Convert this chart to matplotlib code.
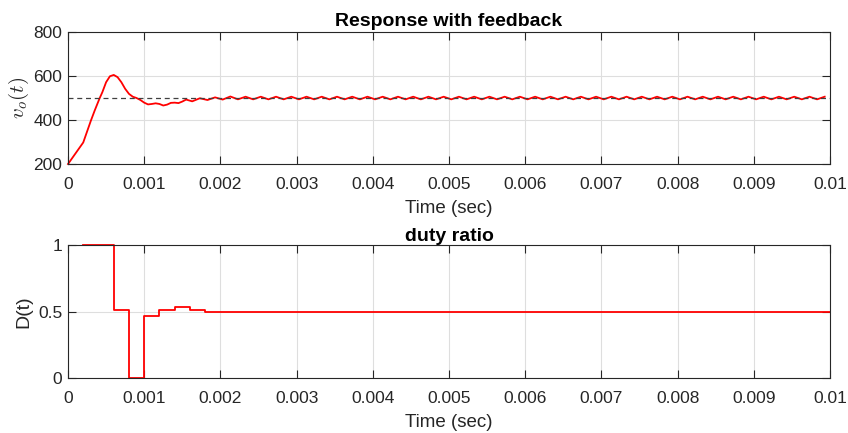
import numpy as np
import matplotlib
matplotlib.use('Agg')
import matplotlib.pyplot as plt

plt.rcParams['font.family'] = ['Liberation Sans', 'DejaVu Sans']
plt.rcParams['mathtext.fontset'] = 'cm'

# output voltage: transient points (s, V)
vo_t = [0, 0.0002, 0.0003, 0.00035, 0.000416, 0.00045, 0.0005, 0.00055, 0.0006,
        0.00065, 0.0007, 0.00075, 0.0008, 0.00085,
        0.0009, 0.00095, 0.001, 0.00105, 0.0011, 0.00115, 0.0012, 0.00125,
        0.0013, 0.00135, 0.0014, 0.00145, 0.0015, 0.00155]
vo_v = [200, 298, 397, 443, 500, 526, 572, 599, 605,
        595, 572, 542, 519, 506,
        500, 491, 479, 471, 473, 476, 473, 466,
        470, 478, 479, 477, 484, 493]

# ripple after the transient: alternating troughs and peaks every half period
ripple_start = 0.00163
ripple_half = 0.0001
ripple_v = [485, 499, 491, 503, 493, 507, 494, 506, 494, 506,
            494, 506, 494, 506, 494, 506, 494, 506, 494, 506,
            494, 506, 494, 506, 494, 506, 494, 506, 494, 506,
            494, 506, 494, 506, 494, 506, 494, 506, 494, 506,
            494, 506, 494, 506, 494, 506, 494, 506, 494, 506,
            494, 506, 494, 506, 494, 506, 494, 506, 494, 506,
            494, 506, 494, 506, 494, 506, 494, 506, 494, 506,
            494, 506, 494, 506, 494, 506, 494, 506, 494, 506,
            494, 506, 494, 506]
v_ref = 500

# duty ratio (zero-order hold)
d_t = [0.0002, 0.0006, 0.0008, 0.001, 0.0012, 0.0014, 0.0016, 0.0018,
       0.0024, 0.0026, 0.01]
d_v = [1, 0.51, 0, 0.465, 0.508, 0.537, 0.513, 0.5,
       0.498, 0.5, 0.5]

xticks = np.arange(0, 0.0101, 0.001)
xlabels = ['0'] + ['%g' % x for x in xticks[1:]]

rt = ripple_start + ripple_half * np.arange(len(ripple_v))
t_all = np.concatenate([vo_t, rt])
v_all = np.concatenate([vo_v, ripple_v])
keep = t_all <= 0.01
t_all, v_all = t_all[keep], v_all[keep]

fig = plt.figure(figsize=(8.48, 4.33), dpi=100)
ax1 = fig.add_axes([0.0802, 0.6212, 0.8986, 0.3048])
ax2 = fig.add_axes([0.0802, 0.127, 0.8986, 0.307])

tick_c = '#262626'
for ax in (ax1, ax2):
    ax.grid(True, color='#dedede', linewidth=0.8)
    ax.set_axisbelow(True)
    ax.tick_params(direction='in', length=5.5, width=0.8, top=True, right=True,
                   labelsize=12.5, colors=tick_c)
    ax.tick_params(axis='x', pad=9)
    ax.tick_params(axis='y', pad=4)
    for s in ax.spines.values():
        s.set_color(tick_c)
        s.set_linewidth(0.8)
    ax.set_xlim(0, 0.01)
    ax.set_xticks(xticks)
    ax.set_xticklabels(xlabels)
    ax.set_xlabel('Time (sec)', fontsize=13.5, color=tick_c, labelpad=6)

ax1.plot(t_all, v_all, color='red', linewidth=1.3, clip_on=False)
ax1.axhline(v_ref, color='#404040', linestyle='--', linewidth=0.9, dashes=(4, 3))
ax1.set_ylim(200, 800)
ax1.set_yticks([200, 400, 600, 800])
ax1.set_ylabel('$v_o(t)$', fontsize=15, color=tick_c, labelpad=2)
ax1.set_title('Response with feedback', fontsize=14, fontweight='bold', pad=4)

ax2.step(d_t, d_v, where='post', color='red', linewidth=1.3, clip_on=False)
ax2.set_ylim(0, 1)
ax2.set_yticks([0, 0.5, 1])
ax2.set_yticklabels(['0', '0.5', '1'])
ax2.set_ylabel('D(t)', fontsize=14, color=tick_c, labelpad=4)
ax2.set_title('duty ratio', fontsize=14, fontweight='bold', pad=3)

fig.savefig('out.png', dpi=100)
